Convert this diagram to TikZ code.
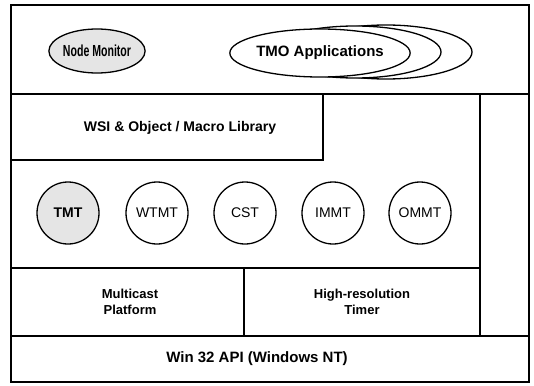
\documentclass[tikz,border=0pt]{standalone}
\usepackage{fontspec}
\setmainfont{Liberation Sans}
\usetikzlibrary{shapes.geometric}
\begin{document}
\begin{tikzpicture}[x=1pt,y=-1pt,line width=1.3pt,
  lbl/.style={font=\bfseries\fontsize{14}{16}\selectfont,align=center,inner sep=0pt},
  sml/.style={font=\bfseries\fontsize{13}{16}\selectfont,align=center,inner sep=0pt},
  oval/.style={draw,ellipse,inner sep=0pt},
  mod/.style={draw,circle,minimum size=62pt,inner sep=0pt,font=\fontsize{14}{16}\selectfont},
  shade/.style={fill=black!10}]
\path[use as bounding box] (0,0) rectangle (534,385);
% frame and layers
\draw (11,5) rectangle (529,382);
\draw (11,94) -- (529,94);
\draw (11,160) -- (323,160) -- (323,94);
\draw (480,94) -- (480,336);
\draw (11,268) -- (480,268);
\draw (244,268) -- (244,336);
\draw (11,336) -- (529,336);
% top row
\node[oval,shade,minimum width=78pt,minimum height=44pt] (nm) at (97,51)
  {\bfseries\fontsize{16}{18}\selectfont\scalebox{0.66}[1]{Node Monitor}};
\node[oval,fill=white,minimum width=172pt,minimum height=54pt] (tmo3) at (386,52) {};
\node[oval,fill=white,minimum width=172pt,minimum height=52pt] (tmo2) at (355,52) {};
\node[oval,fill=white,minimum width=172pt,minimum height=48pt,lbl,font=\bfseries\fontsize{15}{17}\selectfont] (tmo) at (320,53) {TMO Applications};
% library
\node[lbl] (wsi) at (180,128) {WSI \& Object / Macro Library};
% threads
\node[mod,shade,font=\bfseries\fontsize{14}{16}\selectfont] (tmt) at (68,213) {TMT};
\node[mod] (wtmt) at (157,213) {WTMT};
\node[mod] (cst) at (245,213) {CST};
\node[mod] (immt) at (333,213) {IMMT};
\node[mod] (ommt) at (420,213) {OMMT};
% platform
\node[sml] (mc) at (130,302) {Multicast\\Platform};
\node[sml] (hr) at (362,302) {High-resolution\\Timer};
\node[lbl,font=\bfseries\fontsize{15}{17}\selectfont] (win) at (257,359) {Win 32 API (Windows NT)};
\end{tikzpicture}
\end{document}
